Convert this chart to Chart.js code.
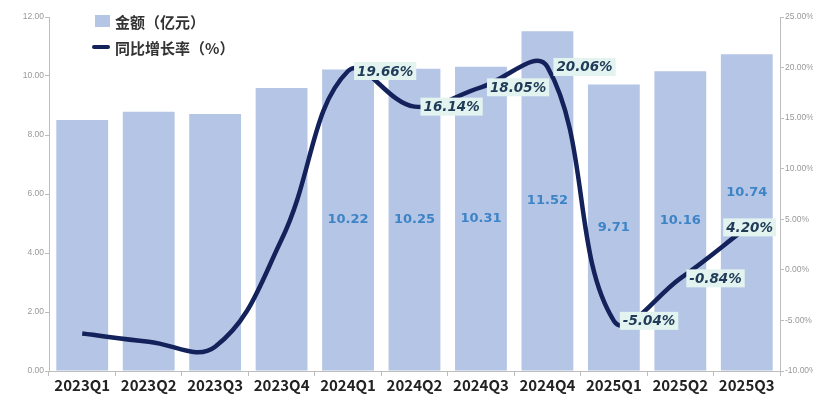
<!DOCTYPE html>
<html lang="zh">
<head>
<meta charset="utf-8">
<title>金额与同比增长率</title>
<script src="https://cdn.jsdelivr.net/npm/chart.js@4/dist/chart.umd.min.js"></script>
<style>
  html, body { margin: 0; padding: 0; background: #fff; }
  #wrap { position: relative; width: 813px; height: 401px; }
  #legend {
    position: absolute; left: 92px; top: 8px;
    font: bold 15px "Noto Sans CJK SC", sans-serif; color: #333;
  }
  #legend .item { display: flex; align-items: center; height: 26px; }
  #legend .box { width: 15px; height: 12px; background: #b4c5e6; margin: 0 5px 0 3px; }
  #legend .dash { width: 18px; height: 4px; background: #13225a; border-radius: 2px; margin-right: 5px; }
</style>
</head>
<body>
<div id="wrap">
  <canvas id="chart" width="813" height="401"></canvas>
  <div id="legend">
    <div class="item"><span class="box"></span>金额（亿元）</div>
    <div class="item"><span class="dash"></span>同比增长率（%）</div>
  </div>
</div>
<script>
/* ===== DATA ===== */
const quarters = ["2023Q1", "2023Q2", "2023Q3", "2023Q4", "2024Q1", "2024Q2",
  "2024Q3", "2024Q4", "2025Q1", "2025Q2", "2025Q3"];
const amounts = [8.51, 8.79, 8.71, 9.59, 10.22, 10.25, 10.31, 11.52, 9.71, 10.16, 10.74];
const growth = [-6.3, -7.1, -7.6, 3.0, 19.66, 16.14, 18.05, 20.06, -5.04, -0.84, 4.20];
const amountTicks = [0, 2, 4, 6, 8, 10, 12];
const growthTicks = [-10, -5, 0, 5, 10, 15, 20, 25];
const labelFrom = 4; // values are printed from 2024Q1 on

const BAR = "#b4c5e6";
const LINE = "#13225a";

/* ===== VALUE LABELS ===== */
const valueLabels = {
  id: "valueLabels",
  afterDatasetsDraw(chart) {
    const { ctx, chartArea } = chart;
    const bars = chart.getDatasetMeta(0).data;
    const points = chart.getDatasetMeta(1).data;
    const boxes = [];
    ctx.save();
    ctx.textBaseline = "middle";

    // growth rate tags, right of each point
    ctx.font = 'italic bold 13.5px "DejaVu Sans"';
    ctx.textAlign = "left";
    points.forEach((pt, i) => {
      if (i < labelFrom) return;
      const text = growth[i].toFixed(2) + "%";
      const w = ctx.measureText(text).width + 6;
      const h = 18;
      let x = pt.x + 6;
      if (x + w > chartArea.right - 4) x = chartArea.right - 4 - w;
      const y = pt.y - h / 2;
      boxes[i] = { x, y, w, h };
      ctx.fillStyle = "#e2f3f0";
      ctx.fillRect(x, y, w, h);
      ctx.fillStyle = "#1f3b57";
      ctx.fillText(text, x + 3, pt.y + 1);
    });

    // amounts, centred in the bar unless a tag sits there
    ctx.font = 'bold 13px "DejaVu Sans"';
    ctx.textAlign = "center";
    ctx.fillStyle = "#3d84c6";
    bars.forEach((bar, i) => {
      if (i < labelFrom) return;
      let y = (bar.y + bar.base) / 2;
      const b = boxes[i];
      if (b && y + 9 > b.y && y - 9 < b.y + b.h) y = b.y - 26;
      ctx.fillText(amounts[i].toFixed(2), bar.x, y);
    });
    ctx.restore();
  },
};

/* ===== CHART ===== */
const axisGrey = "#bdbdbd";
const tickFont = { family: "Liberation Sans", size: 8.5 };

new Chart(document.getElementById("chart"), {
  data: {
    labels: quarters,
    datasets: [
      {
        type: "bar",
        label: "金额（亿元）",
        data: amounts,
        yAxisID: "y",
        backgroundColor: BAR,
        categoryPercentage: 1,
        barPercentage: 0.78,
        order: 1,
      },
      {
        type: "line",
        label: "同比增长率（%）",
        data: growth,
        yAxisID: "y1",
        borderColor: LINE,
        borderWidth: 4.5,
        tension: 0.4,
        pointRadius: 0,
        fill: false,
        order: 0,
      },
    ],
  },
  options: {
    responsive: false,
    animation: false,
    layout: { padding: { top: 17 } },
    plugins: { legend: { display: false }, tooltip: { enabled: false } },
    scales: {
      x: {
        grid: { offset: true, drawOnChartArea: false, tickLength: 5, color: axisGrey },
        border: { color: axisGrey },
        ticks: {
          padding: 0,
          color: "#222",
          font: { family: "Noto Sans CJK SC", size: 15, weight: "bold" },
        },
        afterFit: (s) => { s.height = 30; },
      },
      y: {
        position: "left",
        min: amountTicks[0],
        max: amountTicks[amountTicks.length - 1],
        afterBuildTicks: (s) => { s.ticks = amountTicks.map((v) => ({ value: v })); },
        grid: { drawOnChartArea: false, tickLength: 4, color: axisGrey },
        border: { color: axisGrey },
        ticks: { padding: 1, color: "#999", font: tickFont, callback: (v) => v.toFixed(2) },
        afterFit: (s) => { s.width = 49; },
      },
      y1: {
        position: "right",
        min: growthTicks[0],
        max: growthTicks[growthTicks.length - 1],
        afterBuildTicks: (s) => { s.ticks = growthTicks.map((v) => ({ value: v })); },
        grid: { drawOnChartArea: false, tickLength: 4, color: axisGrey },
        border: { color: axisGrey },
        ticks: { padding: 1, color: "#999", font: tickFont, callback: (v) => v.toFixed(2) + "%" },
        afterFit: (s) => { s.width = 33; },
      },
    },
  },
  plugins: [valueLabels],
});
</script>
</body>
</html>
